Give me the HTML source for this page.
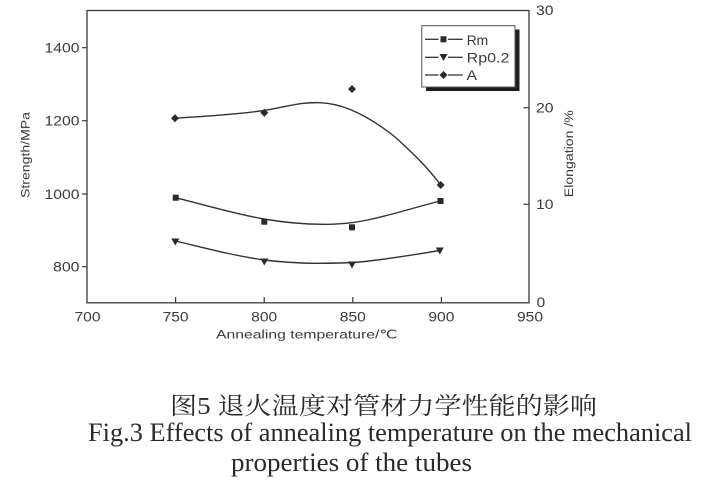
<!DOCTYPE html>
<html>
<head>
<meta charset="utf-8">
<style>
  html, body { margin:0; padding:0; background:#ffffff; }
  body { width:713px; height:488px; overflow:hidden; }
  svg { display:block; }
  .t { font-family:"Liberation Sans", Arial, sans-serif; fill:#3a3a3a; }
  .cap { font-family:"Liberation Serif", "Noto Serif CJK SC", serif; fill:#2a2a2a; }
</style>
</head>
<body>
<svg width="713" height="488" viewBox="0 0 713 488" xmlns="http://www.w3.org/2000/svg">
  <rect x="0" y="0" width="713" height="488" fill="#ffffff"/>

  <!-- plot frame -->
  <rect x="87" y="10.5" width="442" height="292.3" fill="none" stroke="#3a3a3a" stroke-width="1.3"/>

  <!-- left ticks (outward) -->
  <g stroke="#3a3a3a" stroke-width="1.2">
    <line x1="82" y1="47.7" x2="87" y2="47.7"/>
    <line x1="82" y1="120.7" x2="87" y2="120.7"/>
    <line x1="82" y1="194" x2="87" y2="194"/>
    <line x1="82" y1="266.7" x2="87" y2="266.7"/>
    <!-- bottom ticks (inward) -->
    <line x1="175.6" y1="302.8" x2="175.6" y2="297"/>
    <line x1="264.2" y1="302.8" x2="264.2" y2="297"/>
    <line x1="352.8" y1="302.8" x2="352.8" y2="297"/>
    <line x1="441.4" y1="302.8" x2="441.4" y2="297"/>
    <!-- right ticks (inward) -->
    <line x1="523.5" y1="107.7" x2="529" y2="107.7"/>
    <line x1="523.5" y1="204.3" x2="529" y2="204.3"/>
  </g>

  <!-- left tick labels -->
  <g class="t" font-size="13.5" text-anchor="end">
    <text x="79.5" y="52.5" textLength="35" lengthAdjust="spacingAndGlyphs">1400</text>
    <text x="79.5" y="125.5" textLength="35" lengthAdjust="spacingAndGlyphs">1200</text>
    <text x="79.5" y="198.8" textLength="35" lengthAdjust="spacingAndGlyphs">1000</text>
    <text x="79.5" y="271.5" textLength="26.5" lengthAdjust="spacingAndGlyphs">800</text>
  </g>

  <!-- bottom tick labels -->
  <g class="t" font-size="13.5" text-anchor="middle">
    <text x="87.5" y="321.5" textLength="26" lengthAdjust="spacingAndGlyphs">700</text>
    <text x="175.6" y="321.5" textLength="26" lengthAdjust="spacingAndGlyphs">750</text>
    <text x="264.2" y="321.5" textLength="26" lengthAdjust="spacingAndGlyphs">800</text>
    <text x="352.8" y="321.5" textLength="26" lengthAdjust="spacingAndGlyphs">850</text>
    <text x="441.4" y="321.5" textLength="26" lengthAdjust="spacingAndGlyphs">900</text>
    <text x="530" y="321.5" textLength="26" lengthAdjust="spacingAndGlyphs">950</text>
  </g>

  <!-- right tick labels -->
  <g class="t" font-size="13.5">
    <text x="536" y="14.8" textLength="17.5" lengthAdjust="spacingAndGlyphs">30</text>
    <text x="536" y="112.5" textLength="17.5" lengthAdjust="spacingAndGlyphs">20</text>
    <text x="536" y="209" textLength="17.5" lengthAdjust="spacingAndGlyphs">10</text>
    <text x="536.5" y="307" textLength="8.7" lengthAdjust="spacingAndGlyphs">0</text>
  </g>

  <!-- axis titles -->
  <text class="t" font-size="12.3" x="216" y="338.5" textLength="181" lengthAdjust="spacingAndGlyphs">Annealing temperature/℃</text>
  <text class="t" font-size="12.3" transform="translate(29.5,155) rotate(-90)" text-anchor="middle" textLength="86" lengthAdjust="spacingAndGlyphs">Strength/MPa</text>
  <text class="t" font-size="12.3" transform="translate(572.8,153.7) rotate(-90)" text-anchor="middle" textLength="87" lengthAdjust="spacingAndGlyphs">Elongation /%</text>

  <!-- curves -->
  <g fill="none" stroke="#333333" stroke-width="1.4">
    <!-- A -->
    <path d="M174.7,118.3 C210,116 240,114 264,110.5 C290,106 300,102 320,102.7 C345,103.5 370,117 395,137 C415,155 428,168 440.7,185"/>
    <!-- Rm -->
    <path d="M175.7,197.7 C205,205 235,214 264,219 C290,223.5 310,224.5 327,224.3 C345,224 355,222.5 370,219.5 C395,214 420,206 440,201"/>
    <!-- Rp0.2 -->
    <path d="M175.5,241 C205,248 235,256 264,260 C285,262.5 300,263.3 317,263.3 C335,263.3 350,263 365,261.5 C392,258.5 418,254 440,250.5"/>
  </g>

  <!-- markers -->
  <g fill="#2a2a2a">
    <!-- Rm squares -->
    <rect x="172.7" y="194.7" width="6" height="6"/>
    <rect x="261.3" y="218.7" width="6" height="6"/>
    <rect x="349" y="224.3" width="6" height="6"/>
    <rect x="437.5" y="198" width="6" height="6"/>
    <!-- Rp0.2 triangles down -->
    <polygon points="171.3,238.5 179.3,238.5 175.3,245.5"/>
    <polygon points="260.3,258.5 268.3,258.5 264.3,265.5"/>
    <polygon points="348,261.5 356,261.5 352,268.5"/>
    <polygon points="435.8,247.5 443.8,247.5 439.8,254.5"/>
    <!-- A diamonds -->
    <polygon points="175,114.3 179,118.3 175,122.3 171,118.3"/>
    <polygon points="264.3,108.7 268.3,112.7 264.3,116.7 260.3,112.7"/>
    <polygon points="352,85 356,89 352,93 348,89"/>
    <polygon points="440.7,181 444.7,185 440.7,189 436.7,185"/>
  </g>

  <!-- legend -->
  <rect x="426" y="29.5" width="93.5" height="61.5" fill="#1e1e1e"/>
  <rect x="421.8" y="25.7" width="93.2" height="61.3" fill="#ffffff" stroke="#555555" stroke-width="1"/>
  <g stroke="#333333" stroke-width="1.3">
    <line x1="425" y1="39.3" x2="438.5" y2="39.3"/>
    <line x1="448" y1="39.3" x2="462.7" y2="39.3"/>
    <line x1="425" y1="57.3" x2="438.5" y2="57.3"/>
    <line x1="448" y1="57.3" x2="462.7" y2="57.3"/>
    <line x1="425" y1="75" x2="438.5" y2="75"/>
    <line x1="448" y1="75" x2="462.7" y2="75"/>
  </g>
  <g fill="#2a2a2a">
    <rect x="440.5" y="36.3" width="6" height="6"/>
    <polygon points="439.5,54 447.5,54 443.5,61"/>
    <polygon points="443.5,71 447.5,75 443.5,79 439.5,75"/>
  </g>
  <g class="t" font-size="14">
    <text x="466.7" y="44.8" textLength="21.5" lengthAdjust="spacingAndGlyphs">Rm</text>
    <text x="466.7" y="62.7" textLength="42.7" lengthAdjust="spacingAndGlyphs">Rp0.2</text>
    <text x="466.5" y="80" textLength="10.5" lengthAdjust="spacingAndGlyphs">A</text>
  </g>

  <!-- caption -->
  <text class="cap" x="170" y="414" font-size="24" textLength="427" lengthAdjust="spacingAndGlyphs">图5  退火温度对管材力学性能的影响</text>
  <text class="cap" x="88" y="441" font-size="26" textLength="604" lengthAdjust="spacingAndGlyphs">Fig.3 Effects of annealing temperature on the mechanical</text>
  <text class="cap" x="231" y="471" font-size="26" textLength="241" lengthAdjust="spacingAndGlyphs">properties of the tubes</text>
</svg>
</body>
</html>
